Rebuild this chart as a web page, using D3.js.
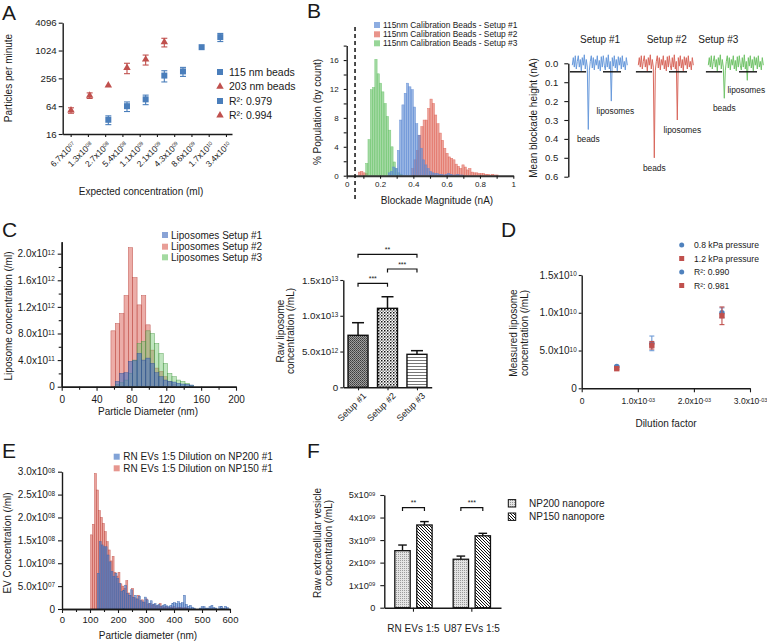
<!DOCTYPE html>
<html><head><meta charset="utf-8">
<script src="https://cdn.jsdelivr.net/npm/d3@7/dist/d3.min.js"></script>
<style>
html,body{margin:0;padding:0;background:#fff;}
svg text{font-family:"Liberation Sans",Arial,Helvetica,sans-serif;}
</style></head>
<body>
<svg id="fig" width="767" height="641" xmlns="http://www.w3.org/2000/svg"></svg>
<script>
// ================= DATA =================
// Panel A
const aConc = ["6.7x10^07","1.3x10^08","2.7x10^08","5.4x10^08","1.1x10^09","2.1x10^09","4.3x10^09","8.6x10^09","1.7x10^10","3.4x10^10"];
const aYTicks = [16,64,256,1024,4096];
const a115Idx = [2,3,4,5,6,7,8];
const a115 = [32.5,64,90,294,362,1210,2000];
const a115Err = [7,15,21,80,80,0,400];
const a203Idx = [0,1,2,3,4,5];
const a203 = [52,109,180,433,657,1555];
const a203Err = [7,15,0,110,160,330];
const aLegend = ["115 nm beads","203 nm beads","R\u00b2: 0.979","R\u00b2: 0.994"];

// Panel B histogram (% population by count, bins of blockade magnitude in nA)
const bLegend = ["115nm Calibration Beads - Setup #1","115nm Calibration Beads - Setup #2","115nm Calibration Beads - Setup #3"];
const bBin = 0.0137;
const bBlueStart = 0.249;
const bBlue = [0.4,0.6,1.2,1.0,3.5,7.7,9.8,11.4,12.8,12.3,11.9,9.5,7.2,5.6,3.8,2.2,1.5,1.0,0.6,0.4,0.3,0.3,0.2,0.2,0.1,0.2,0.3,0.2,0.1,0.1,0.2,0.1,0.1];
const bRedStart = 0.39;
const bRed = [1.0,2.2,3.5,5.6,6.8,7.7,7.7,9.3,10.6,10.0,8.4,7.2,5.9,4.9,3.8,3.1,2.6,2.4,2.2,1.6,1.3,1.0,1.5,1.2,0.8,1.0,0.5,0.4,0.4,0.3,0.3,0.3,0.2,0.2,0.1,0.2,0.1,0.1];
const bRedLowStart = 0.07;
const bRedLow = [0.5,0.6,0.4,0.3];
const bGreenStart = 0.114;
const bGreen = [1.7,5.0,11.9,12.2,16.1,14.1,12.8,11.6,10.0,8.2,6.3,4.0,1.9,1.0,0.4,0.2];
const bThreshold = 0.05;
const bXTickLabels = ["0","0.2","0.4","0.6","0.8","1"];

// Panel B traces (nA)
const tSetups = ["Setup #1","Setup #2","Setup #3"];
const tBeads = [0.35,0.50,0.185];
const tLipo = [0.20,0.30,0.09];
const tNoise = [0.010,-0.030,0.020,-0.040,0.030,-0.010,-0.040,0.020,-0.020,0.040,-0.030,0.010,-0.045,0.030,-0.020,0.020,-0.035,0.040,-0.010,-0.040,0.025,-0.030,0.035,-0.020,0.010,-0.040,0.030,-0.015,0.040,-0.035,0.020,-0.040,0.010,0.035,-0.030,0.020,-0.045,0.030,-0.010,0.040,-0.030,0.015,-0.040,0.025,-0.020,0.040,-0.035,0.010,-0.030,0.030,-0.040,0.020,-0.010,0.035,-0.030,0.010];
const tBeadsAt = 16, tLipoAt = 39;
const tBaseline = 0.045;
const tYTicks = [0,0.1,0.2,0.3,0.4,0.5,0.6];

// Panel C histogram (x10^11 /ml, 5 nm bins)
const cLegend = ["Liposomes Setup #1","Liposomes Setup #2","Liposomes Setup #3"];
const cBin = 5;
const cRedStart = 56.5;
const cRedE11 = [8.4,9.5,11.0,13.7,20.9,16.4,12.3,13.7,9.3,5.5,2.8,2.3,1.5,0.8,0.4];
const cGreenStart = 61.5;
const cGreenE11 = [0.3,0.6,1.0,2.0,4.0,6.5,6.8,8.4,8.0,6.5,5.0,3.5,2.0,1.5,1.0,0.8,0.5,0.2];
const cBlueStart = 61.5;
const cBlueE11 = [0.8,2.0,2.1,3.8,3.9,5.0,4.0,4.3,3.5,2.1,1.5,1.0,0.8,0.7,0.5,0.4,0.35,0.25];
const cYTicks = [0,4,8,12,16,20];
const cYTickLabels = ["0","4.0x10^11","8.0x10^11","1.2x10^12","1.6x10^12","2.0x10^12"];
const cXTicks = [0,40,80,120,160,200];

// Panel C bars
const cbSetups = ["Setup #1","Setup #2","Setup #3"];
const cbMean = [7.27e12,1.104e13,4.61e12];
const cbErr = [1.76e12,1.62e12,0.51e12];
const cbYTicks = [0,5e12,1e13,1.5e13];
const cbYTickLabels = ["0","5.0x10^12","1.0x10^13","1.5x10^13"];
const cbSig = [[0,1,"***"],[1,2,"***"],[0,2,"**"]];

// Panel D
const dDil = [0.000625,0.00125,0.0025];
const d08 = [2.9e9,5.95e9,1.0e10];
const d08Err = [0.12e9,0.97e9,0.65e9];
const d12 = [2.6e9,5.7e9,9.6e9];
const d12Err = [0.1e9,0.5e9,1.17e9];
const dYTicks = [0,5e9,1e10,1.5e10];
const dYTickLabels = ["0","5.0x10^10","1.0x10^10","1.5x10^10"];
const dXTicks = [0,0.001,0.002,0.003];
const dXTickLabels = ["0","1.0x10^-03","2.0x10^-03","3.0x10^-03"];
const dLegend = ["0.8 kPa pressure","1.2 kPa pressure","R\u00b2: 0.990","R\u00b2: 0.981"];

// Panel E histogram (x10^8 /ml, 7 nm bins)
const eLegend = ["RN EVs 1:5 Dilution on NP200 #1","RN EVs 1:5 Dilution on NP150 #1"];
const eBin = 7;
const eRedStart = 102;
const eRedE8 = [1.62,1.85,2.96,2.60,2.15,2.00,1.87,1.69,1.47,1.29,1.05,1.15,0.80,0.72,0.80,0.55,0.50,0.45,0.62,0.35,0.30,0.45,0.25,0.22,0.30,0.18,0.20,0.15,0.22,0.10,0.12,0.08,0.10,0.06,0.07,0.12,0.05,0.04,0.06,0.03,0.04,0.03,0.05,0.02,0.03,0.04,0.03,0.02,0.03,0.02];
const eBlueStart = 126;
const eBlueE8 = [0.78,1.47,1.40,1.36,1.36,1.18,1.03,0.82,0.71,0.78,0.67,0.56,0.38,0.41,0.52,0.34,0.30,0.42,0.25,0.30,0.22,0.28,0.18,0.15,0.26,0.20,0.12,0.18,0.10,0.12,0.08,0.10,0.05,0.08,0.10,0.07,0.05,0.08,0.12,0.14,0.12,0.16,0.12,0.14,0.30,0.10,0.06,0.08,0.04,0.02,0.00,0.00,0.02,0.05,0.05,0.02,0.02,0.05,0.08,0.03,0.02,0.00,0.05,0.06,0.02,0.06,0.03];
const eYTicks = [0,0.5,1,1.5,2,2.5,3];
const eYTickLabels = ["0","5.0x10^07","1.0x10^08","1.5x10^08","2.0x10^08","2.5x10^08","3.0x10^08"];
const eXTicks = [0,100,200,300,400,500,600];

// Panel F
const fGroups = ["RN EVs 1:5","U87 EVs 1:5"];
const fSeries = ["NP200 nanopore","NP150 nanopore"];
const fNP200 = [2.53e9,2.15e9], fNP200Err = [0.25e9,0.14e9];
const fNP150 = [3.67e9,3.19e9], fNP150Err = [0.15e9,0.11e9];
const fSig = ["**","***"];
const fYTicks = [0,1e9,2e9,3e9,4e9,5e9];
const fYTickLabels = ["0","1x10^09","2x10^09","3x10^09","4x10^09","5x10^09"];

// ================= RENDER =================
const FONT = '"Liberation Sans", Arial, sans-serif';
const INK = "#1a1a1a";
const svg = d3.select("#fig");

function sciInto(t, s){
  t.text(null);
  const i = s.indexOf("^");
  if (i < 0) { t.text(s); return t; }
  t.append("tspan").text(s.slice(0,i));
  t.append("tspan").attr("dy","-0.42em").attr("font-size","64%").text(s.slice(i+1));
  return t;
}
function txt(g,x,y,s,fs,anchor,rot){
  const t = g.append("text").attr("font-size",fs).attr("fill",INK).attr("text-anchor",anchor||"start");
  if (rot) t.attr("transform",`translate(${x},${y}) rotate(${rot})`); else t.attr("x",x).attr("y",y);
  return sciInto(t,s);
}
function styleAxis(g, fs, w){
  g.attr("font-family",FONT).attr("font-size",fs);
  g.select(".domain").attr("stroke",INK).attr("stroke-width",w||1.4);
  g.selectAll(".tick line").attr("stroke",INK).attr("stroke-width",1.1);
  g.selectAll(".tick text").attr("fill",INK);
  return g;
}
function labelTicks(g, labels){
  g.selectAll(".tick text").each(function(d,i){ sciInto(d3.select(this), labels[i]); });
}
function line(g,x1,y1,x2,y2,col,w){
  return g.append("line").attr("x1",x1).attr("y1",y1).attr("x2",x2).attr("y2",y2).attr("stroke",col).attr("stroke-width",w||1.1);
}
function errBar(g,x,y1,y2,cap,col,w){
  line(g,x,y1,x,y2,col,w); line(g,x-cap,y1,x+cap,y1,col,w); line(g,x-cap,y2,x+cap,y2,col,w);
}
function hist(g,x,y,start,bin,vals,col,op,stroke){
  g.append("g").selectAll("rect").data(vals).join("rect")
    .attr("x",(d,i)=>x(start+i*bin))
    .attr("width",(d,i)=>Math.max(0,x(start+(i+1)*bin)-x(start+i*bin)))
    .attr("y",d=>y(d)).attr("height",d=>y(0)-y(d))
    .attr("fill",col).attr("fill-opacity",op)
    .attr("stroke",stroke||col).attr("stroke-opacity",0.85).attr("stroke-width",0.5);
}

// patterns
const defs = svg.append("defs");
function pat(id,w,h,draw){
  const p = defs.append("pattern").attr("id",id).attr("patternUnits","userSpaceOnUse").attr("width",w).attr("height",h);
  draw(p);
}
pat("pC1",2,2,p=>{
  p.append("rect").attr("width",2).attr("height",2).attr("fill","#a0a0a0");
  p.append("rect").attr("width",1).attr("height",1).attr("fill","#3c3c3c");
  p.append("rect").attr("x",1).attr("y",1).attr("width",1).attr("height",1).attr("fill","#555");
});
pat("pC2",3,3,p=>{
  p.append("rect").attr("width",3).attr("height",3).attr("fill","#fff");
  p.append("rect").attr("width",1.5).attr("height",1.5).attr("fill","#111");
  p.append("rect").attr("x",1.5).attr("y",1.5).attr("width",1.5).attr("height",1.5).attr("fill","#888");
});
pat("pC3",3,3,p=>{
  p.append("rect").attr("width",3).attr("height",3).attr("fill","#fff");
  p.append("rect").attr("y",0).attr("width",3).attr("height",1).attr("fill","#777");
});
pat("pF200",2,2,p=>{
  p.append("rect").attr("width",2).attr("height",2).attr("fill","#e4e4e4");
  p.append("rect").attr("width",1).attr("height",1).attr("fill","#9a9a9a");
});
pat("pF150",3,3,p=>{
  p.append("rect").attr("width",3).attr("height",3).attr("fill","#fff");
  p.append("path").attr("d","M0,0L3,3M-1,2L1,4M2,-1L4,1").attr("stroke","#111").attr("stroke-width",1);
});

// ---------- Panel A ----------
(function(){
  const g = svg.append("g");
  const blue = "#4a7ebb", red = "#c0504d";
  const y = d3.scaleLog().base(2).domain([16,4096]).range([134,22.7]);
  const xT = d3.scaleLinear().domain([-0.46,9.35]).range([62.7,232]);
  const xP = d3.scaleLinear().domain([0,8]).range([71,220.3]);
  const ya = g.append("g").attr("transform","translate(62.7,0)")
    .call(d3.axisLeft(y).tickValues(aYTicks).tickFormat(d=>String(d)).tickSize(4).tickSizeOuter(0).tickPadding(2));
  styleAxis(ya, 9.7);
  const xa = g.append("g").attr("transform","translate(0,134)")
    .call(d3.axisBottom(xT).tickValues(d3.range(aConc.length)).tickSize(3).tickSizeOuter(0));
  styleAxis(xa, 8.5);
  xa.selectAll(".tick text").each(function(d,i){
    const t = d3.select(this).attr("x",0).attr("y",0).attr("dy","0.35em").attr("text-anchor","end")
      .attr("transform","translate(3,9) rotate(-45)");
    sciInto(t, aConc[i]);
  });
  a115Idx.forEach((k,i)=>{
    const v = a115[i], e = a115Err[i], cx = xP(k);
    if (e > 0) errBar(g,cx,y(v-e),y(v+e),3,blue,1.1);
    g.append("rect").attr("x",cx-3).attr("y",y(v)-3).attr("width",6).attr("height",6).attr("fill",blue);
  });
  const tri = d3.symbol().type(d3.symbolTriangle).size(24)();
  a203Idx.forEach((k,i)=>{
    const v = a203[i], e = a203Err[i], cx = xP(k);
    if (e > 0) errBar(g,cx,y(v-e),y(v+e),3,red,1.1);
    g.append("path").attr("d",tri).attr("transform",`translate(${cx},${y(v)})`).attr("fill",red);
  });
  const ly = [72,86.5,101,115.3];
  aLegend.forEach((s,i)=>{
    if (i%2===0) g.append("rect").attr("x",217).attr("y",ly[i]-3).attr("width",6).attr("height",6).attr("fill",blue);
    else g.append("path").attr("d",tri).attr("transform",`translate(220,${ly[i]})`).attr("fill",red);
    txt(g,229,ly[i],s,10.5).attr("dy","0.35em");
  });
  txt(g,12,78,"Particles per minute",10,"middle",-90);
  txt(g,141,195,"Expected concentration (ml)",10,"middle");
  txt(g,2,20,"A",21);
})();

// ---------- Panel B histogram ----------
(function(){
  const g = svg.append("g");
  const cB = "#5d8ad4", cR = "#e0675a", cG = "#6cc46c";
  const x = d3.scaleLinear().domain([0,1]).range([346.7,513.3]);
  const y = d3.scaleLinear().domain([0,18]).range([175.7,45.6]);
  hist(g,x,y,bRedLowStart,bBin,bRedLow,cR,0.6);
  hist(g,x,y,bRedStart,bBin,bRed,cR,0.6);
  hist(g,x,y,bGreenStart,bBin,bGreen,cG,0.62);
  hist(g,x,y,bBlueStart,bBin,bBlue,cB,0.62);
  const ya = g.append("g").attr("transform","translate(346.7,0)")
    .call(d3.axisLeft(y).tickValues(d3.range(0,19,2)).tickFormat(d=>d%4===0?String(d):"").tickSize(3).tickSizeOuter(0).tickPadding(5));
  styleAxis(ya, 8);
  const xa = g.append("g").attr("transform","translate(0,175.7)")
    .call(d3.axisBottom(x).tickValues(d3.range(0,11).map(i=>i/10)).tickFormat((d,i)=>i%2===0?bXTickLabels[i/2]:"").tickSize(3).tickSizeOuter(0));
  styleAxis(xa, 8, 2);
  xa.select(".domain").attr("stroke","#333");
  line(g,x(bThreshold),27,x(bThreshold),200,"#111",1.5).attr("stroke-dasharray","4,3");
  const ly = [25,34.3,43.3], lc = [cB,cR,cG];
  bLegend.forEach((s,i)=>{
    g.append("rect").attr("x",374).attr("y",ly[i]-3).attr("width",6).attr("height",6).attr("fill",lc[i]).attr("fill-opacity",0.7);
    txt(g,383,ly[i],s,8.4).attr("dy","0.35em");
  });
  txt(g,321,112,"% Population (by count)",10,"middle",-90);
  txt(g,437,204,"Blockade Magnitude (nA)",10,"middle");
  txt(g,307,18,"B",21);
})();

// ---------- Panel B traces ----------
(function(){
  const g = svg.append("g");
  const y = d3.scaleLinear().domain([0,0.6]).range([63.3,176.7]);
  const ax = g.append("g").attr("transform","translate(568.3,0)")
    .call(d3.axisLeft(y).tickValues(tYTicks).tickFormat(d3.format(".1f")).tickSize(4).tickSizeOuter(0).tickPadding(6));
  styleAxis(ax, 9.5);
  const starts = [572.3,638.3,708.3], cols = ["#6a9bdc","#d9695e","#72c46a"];
  const titleX = [600,666.7,718.3], lipoDx = [4,5,-1];
  const seg = [[-2.4,13.8],[30.7,48.7]];
  tSetups.forEach((name,i)=>{
    const x = d3.scaleLinear().domain([0,tNoise.length-1]).range([starts[i],starts[i]+55]);
    const vals = tNoise.map((v,j)=> j===tBeadsAt ? tBeads[i] : (j===tLipoAt ? tLipo[i] : v));
    g.append("path").datum(vals).attr("d",d3.line().x((d,j)=>x(j)).y(d=>y(d)))
      .attr("fill","none").attr("stroke",cols[i]).attr("stroke-width",1);
    seg.forEach(s=>line(g,x(s[0]),y(tBaseline),x(s[1]),y(tBaseline),"#111",1.4));
    txt(g,titleX[i],43,name,10,"middle");
    txt(g,x(tBeadsAt),y(tBeads[i])+13,"beads",8.4,"middle");
    txt(g,x(tLipoAt)+lipoDx[i],y(tLipo[i])+13,"liposomes",8.4,"middle");
  });
  txt(g,537,118,"Mean blockade height (nA)",10,"middle",-90);
})();

// ---------- Panel C histogram ----------
(function(){
  const g = svg.append("g");
  const cR = "#dc6a60", cG = "#72c66e", cB = "#4a72c0";
  const x = d3.scaleLinear().domain([0,200]).range([61.7,236]);
  const y = d3.scaleLinear().domain([0,21.8]).range([386.7,241.7]);
  hist(g,x,y,cRedStart,cBin,cRedE11,cR,0.55,"#b8433c");
  hist(g,x,y,cGreenStart,cBin,cGreenE11,cG,0.45,"#4a9a48");
  hist(g,x,y,cBlueStart,cBin,cBlueE11,cB,0.6,"#2f4f95");
  const ym = g.append("g").attr("transform","translate(61.7,0)")
    .call(d3.axisLeft(y).tickValues(d3.range(2,22,4)).tickFormat("").tickSize(3).tickSizeOuter(0));
  styleAxis(ym, 10);
  const ya = g.append("g").attr("transform","translate(61.7,0)")
    .call(d3.axisLeft(y).tickValues(cYTicks).tickSize(4).tickSizeOuter(0).tickPadding(3));
  styleAxis(ya, 10); labelTicks(ya, cYTickLabels);
  const xm = g.append("g").attr("transform","translate(0,386.7)")
    .call(d3.axisBottom(x).tickValues(d3.range(20,200,40)).tickFormat("").tickSize(3).tickSizeOuter(0));
  styleAxis(xm, 10);
  const xa = g.append("g").attr("transform","translate(0,386.7)")
    .call(d3.axisBottom(x).tickValues(cXTicks).tickFormat(d=>String(d)).tickSize(4).tickSizeOuter(0).tickPadding(5));
  styleAxis(xa, 10);
  const ly = [235,246.7,257.3], lc = [cB,cR,cG];
  cLegend.forEach((s,i)=>{
    g.append("rect").attr("x",162).attr("y",ly[i]-3).attr("width",6).attr("height",6).attr("fill",lc[i]).attr("fill-opacity",0.65);
    txt(g,171,ly[i],s,10).attr("dy","0.35em");
  });
  txt(g,12,316,"Liposome concentration (/ml)",10,"middle",-90);
  txt(g,148,415,"Particle Diameter (nm)",10,"middle");
  txt(g,2,237,"C",21);
})();

// ---------- Panel C bars ----------
(function(){
  const g = svg.append("g");
  const y = d3.scaleLinear().domain([0,1.5e13]).range([387.3,280]);
  const x = d3.scalePoint().domain(cbSetups).range([343.3,431.7]).padding(0.5);
  const bw = 20, pats = ["url(#pC1)","url(#pC2)","url(#pC3)"];
  cbSetups.forEach((s,i)=>{
    const cx = x(s);
    line(g,cx,y(cbMean[i]),cx,y(cbMean[i]+cbErr[i]),"#111",1.5);
    line(g,cx-6,y(cbMean[i]+cbErr[i]),cx+6,y(cbMean[i]+cbErr[i]),"#111",1.5);
    g.append("rect").attr("x",cx-bw/2).attr("y",y(cbMean[i])).attr("width",bw).attr("height",y(0)-y(cbMean[i]))
      .attr("fill",pats[i]).attr("stroke","#111").attr("stroke-width",1.4);
  });
  const ya = g.append("g").attr("transform","translate(343.3,0)")
    .call(d3.axisLeft(y).tickValues(cbYTicks).tickSize(3).tickSizeOuter(0).tickPadding(2));
  styleAxis(ya, 9.8); labelTicks(ya, cbYTickLabels);
  const xa = g.append("g").attr("transform","translate(0,387.3)")
    .call(d3.axisBottom(x).tickSize(3).tickSizeOuter(0));
  styleAxis(xa, 9);
  xa.selectAll(".tick text").attr("x",0).attr("y",0).attr("dy","0.35em").attr("text-anchor","end")
    .attr("transform","translate(6,7) rotate(-45)");
  const lev = [283.3,269,254.3];
  cbSig.forEach((s,k)=>{
    const x1 = x(cbSetups[s[0]]), x2 = x(cbSetups[s[1]]), yy = lev[k];
    g.append("path").attr("d",`M${x1},${yy+3.4}V${yy}H${x2}V${yy+3.4}`).attr("fill","none").attr("stroke","#111").attr("stroke-width",1.2);
    txt(g,(x1+x2)/2,yy-2.5,s[2],7,"middle");
  });
  txt(g,284,331,"Raw liposome",10,"middle",-90);
  txt(g,294,331,"concentration (/mL)",10,"middle",-90);
})();

// ---------- Panel D ----------
(function(){
  const g = svg.append("g");
  const blue = "#4f81bd", red = "#c0504d";
  const x = d3.scaleLinear().domain([0,0.003]).range([581.7,750]);
  const y = d3.scaleLinear().domain([0,1.5e10]).range([388.3,275]);
  const ya = g.append("g").attr("transform","translate(581.7,0)")
    .call(d3.axisLeft(y).tickValues(dYTicks).tickSize(3).tickSizeOuter(0).tickPadding(2));
  styleAxis(ya, 10); labelTicks(ya, dYTickLabels);
  const xa = g.append("g").attr("transform","translate(0,388.3)")
    .call(d3.axisBottom(x).tickValues(dXTicks).tickSize(4).tickSizeOuter(0).tickPadding(6));
  styleAxis(xa, 8.5); labelTicks(xa, dXTickLabels);
  dDil.forEach((dv,i)=>{
    const cx = x(dv);
    errBar(g,cx,y(d08[i]-d08Err[i]),y(d08[i]+d08Err[i]),2.5,"#6f9bd6",1.1);
    g.append("circle").attr("cx",cx).attr("cy",y(d08[i])).attr("r",2.7).attr("fill",blue);
  });
  dDil.forEach((dv,i)=>{
    const cx = x(dv);
    errBar(g,cx,y(d12[i]-d12Err[i]),y(d12[i]+d12Err[i]),2.5,red,1.1);
    g.append("rect").attr("x",cx-2.7).attr("y",y(d12[i])-2.7).attr("width",5.4).attr("height",5.4).attr("fill",red);
  });
  dLegend.forEach((s,i)=>{
    const yy = 245 + i*13.5;
    if (i%2===0) g.append("circle").attr("cx",681.7).attr("cy",yy).attr("r",2.5).attr("fill",blue);
    else g.append("rect").attr("x",679.2).attr("y",yy-2.5).attr("width",5).attr("height",5).attr("fill",red);
    txt(g,694,yy,s,8.6).attr("dy","0.35em");
  });
  txt(g,517,333,"Measured liposome",10,"middle",-90);
  txt(g,528,333,"concentration (/mL)",10,"middle",-90);
  txt(g,666,427,"Dilution factor",10,"middle");
  txt(g,501,237,"D",21);
})();

// ---------- Panel E ----------
(function(){
  const g = svg.append("g");
  const cR = "#dc6a60", cB = "#4d7cc6";
  const x = d3.scaleLinear().domain([0,600]).range([62,230]);
  const y = d3.scaleLinear().domain([0,3]).range([609,471.7]);
  hist(g,x,y,eRedStart,eBin,eRedE8,cR,0.62,"#c04a42");
  hist(g,x,y,eBlueStart,eBin,eBlueE8,cB,0.62,"#3a64aa");
  const ya = g.append("g").attr("transform","translate(62,0)")
    .call(d3.axisLeft(y).tickValues(eYTicks).tickSize(4).tickSizeOuter(0).tickPadding(3));
  styleAxis(ya, 10); labelTicks(ya, eYTickLabels);
  const xm = g.append("g").attr("transform","translate(0,609)")
    .call(d3.axisBottom(x).tickValues(d3.range(50,600,100)).tickFormat("").tickSize(3).tickSizeOuter(0));
  styleAxis(xm, 9.5);
  const xa = g.append("g").attr("transform","translate(0,609)")
    .call(d3.axisBottom(x).tickValues(eXTicks).tickFormat(d=>String(d)).tickSize(4).tickSizeOuter(0).tickPadding(3));
  styleAxis(xa, 9.5);
  const ly = [456.7,468.3], lc = [cB,cR];
  eLegend.forEach((s,i)=>{
    g.append("rect").attr("x",113.7).attr("y",ly[i]-3).attr("width",6).attr("height",6).attr("fill",lc[i]).attr("fill-opacity",0.7);
    txt(g,123.3,ly[i],s,10).attr("dy","0.35em");
  });
  txt(g,11,543,"EV Concentration (/ml)",10,"middle",-90);
  txt(g,148,639,"Particle diameter (nm)",10,"middle");
  txt(g,2,458,"E",21);
})();

// ---------- Panel F ----------
(function(){
  const g = svg.append("g");
  const y = d3.scaleLinear().domain([0,5e9]).range([607.7,495]);
  const xg = d3.scaleBand().domain(fGroups).range([384.3,501]);
  const xs = d3.scaleBand().domain(fSeries).range([-18.65,18.65]).paddingInner(0.3);
  const vals = [fNP200, fNP150], errs = [fNP200Err, fNP150Err], pats = ["url(#pF200)","url(#pF150)"];
  fGroups.forEach((grp,gi)=>{
    const c = xg(grp) + xg.bandwidth()/2;
    fSeries.forEach((s,si)=>{
      const x0 = c + xs(s), w = xs.bandwidth(), v = vals[si][gi], e = errs[si][gi], cx = x0 + w/2;
      line(g,cx,y(v),cx,y(v+e),"#111",1.4);
      line(g,cx-4.3,y(v+e),cx+4.3,y(v+e),"#111",1.4);
      g.append("rect").attr("x",x0).attr("y",y(v)).attr("width",w).attr("height",y(0)-y(v))
        .attr("fill",pats[si]).attr("stroke","#111").attr("stroke-width",1.3);
    });
    const x1 = c + xs(fSeries[0]) + xs.bandwidth()/2, x2 = c + xs(fSeries[1]) + xs.bandwidth()/2;
    g.append("path").attr("d",`M${x1},511V507.7H${x2}V511`).attr("fill","none").attr("stroke","#111").attr("stroke-width",1.2);
    txt(g,(x1+x2)/2,505,fSig[gi],7,"middle");
    txt(g,c,631.5,grp,10,"middle");
  });
  const ya = g.append("g").attr("transform","translate(384.3,0)")
    .call(d3.axisLeft(y).tickValues(fYTicks).tickSize(4).tickSizeOuter(0).tickPadding(5));
  styleAxis(ya, 9.2); labelTicks(ya, fYTickLabels);
  const xa = g.append("g").attr("transform","translate(0,607.7)")
    .call(d3.axisBottom(xg).tickSize(4).tickSizeOuter(0).tickFormat(""));
  styleAxis(xa, 10);
  const ly = [503.3,516.7];
  fSeries.forEach((s,i)=>{
    g.append("rect").attr("x",508.3).attr("y",ly[i]-3.7).attr("width",7.4).attr("height",7.4).attr("fill",pats[i]).attr("stroke","#111").attr("stroke-width",1);
    txt(g,529,ly[i],s,10).attr("dy","0.35em");
  });
  txt(g,321,543,"Raw extracellular vesicle",10,"middle",-90);
  txt(g,332,543,"concentration (/mL)",10,"middle",-90);
  txt(g,307,458,"F",21);
})();
</script>
</body></html>
